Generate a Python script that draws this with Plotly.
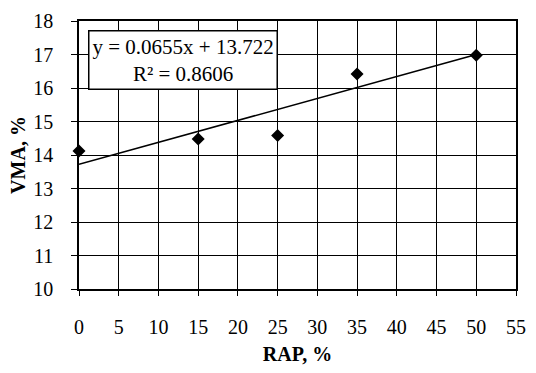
import numpy as np
import plotly.graph_objects as go

rap = [0, 15, 25, 35, 50]
vma = [14.12, 14.48, 14.58, 16.42, 16.98]
slope = 0.0655
intercept = 13.722
r2 = 0.8606
x_ticks = list(range(0, 56, 5))
y_ticks = list(range(10, 19, 1))

trend_x = [min(rap), max(rap)]
trend_y = [slope * v + intercept for v in trend_x]

font_family = "Liberation Serif"

fig = go.Figure()
fig.add_trace(go.Scatter(x=trend_x, y=trend_y, mode="lines",
                         line=dict(color="black", width=1.6), showlegend=False))
fig.add_trace(go.Scatter(x=rap, y=vma, mode="markers", cliponaxis=False,
                         marker=dict(symbol="diamond", size=10, color="black"),
                         showlegend=False))

fig.add_annotation(
    x=0.02, y=0.965, xref="paper", yref="paper", xanchor="left", yanchor="top",
    text=f"y = {slope}x + {intercept}<br>R² = {r2}",
    showarrow=False, align="center",
    font=dict(family=font_family, size=21, color="black"),
    bgcolor="white", bordercolor="black", borderwidth=1.5, borderpad=3,
)

fig.update_xaxes(
    range=[0, 55], tickvals=x_ticks, showgrid=True, gridcolor="black", gridwidth=1.2,
    showline=True, linecolor="black", linewidth=1.5, mirror=True, zeroline=False,
    ticks="outside", ticklen=5, tickcolor="black", ticklabelstandoff=14,
    tickfont=dict(family=font_family, size=20, color="black"),
    title=dict(text="<b>RAP, %</b>", font=dict(family=font_family, size=20, color="black"), standoff=10),
)
fig.update_yaxes(
    range=[10, 18], tickvals=y_ticks, showgrid=True, gridcolor="black", gridwidth=1.2,
    showline=True, linecolor="black", linewidth=1.5, mirror=True, zeroline=False,
    ticks="outside", ticklen=6, tickcolor="black", ticklabelstandoff=14,
    tickfont=dict(family=font_family, size=20, color="black"),
    title=dict(text="<b>VMA, %</b>", font=dict(family=font_family, size=20, color="black"), standoff=2),
)
fig.update_layout(
    width=536, height=373,
    margin=dict(l=79, r=10, t=17, b=84),
    plot_bgcolor="white", paper_bgcolor="white",
)
fig.write_html("out.html")
